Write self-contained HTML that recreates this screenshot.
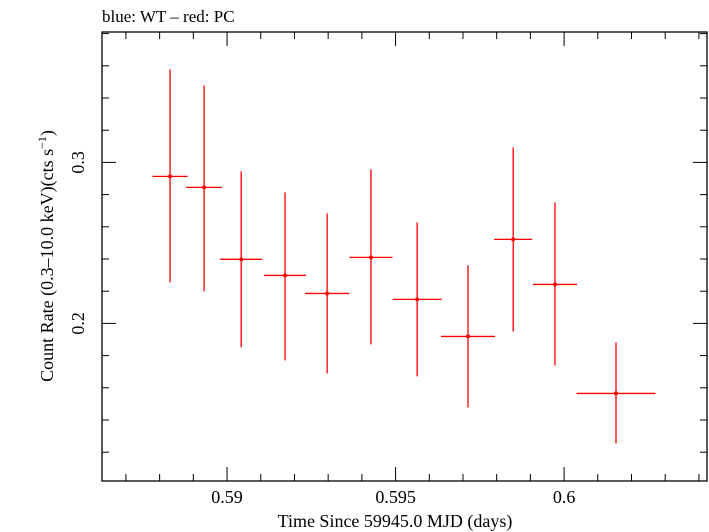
<!DOCTYPE html>
<html><head><meta charset="utf-8"><style>
body{margin:0;background:#fff}
svg{display:block;font-family:"Liberation Serif",serif}
</style></head><body>
<svg id="chart" width="709" height="532">
<text x="102" y="22" font-size="17">blue: WT – red: PC</text>
<rect x="102" y="32" width="605" height="449" fill="none" stroke="#000" stroke-width="1.3"/>
<g id="ticks"></g>
<g id="marks"></g>
<text x="395" y="527" font-size="18" text-anchor="middle">Time Since 59945.0 MJD (days)</text>
<text transform="translate(53,256) rotate(-90)" font-size="18" text-anchor="middle">Count Rate (0.3–10.0 keV)(cts s<tspan baseline-shift="super" font-size="12">−1</tspan>)</text>
</svg>
<script>
const times=[0.58831,0.58932,0.59042,0.59172,0.59297,0.59427,0.59564,0.59715,0.59849,0.59973,0.60154];
const halfWidths=[0.00052,0.000534,0.000623,0.000623,0.000653,0.000638,0.000727,0.0008,0.000564,0.000653,0.001172];
const rates=[0.2913,0.2845,0.2398,0.2298,0.2186,0.241,0.2149,0.1919,0.2522,0.2242,0.1565];
const ratesHi=[0.3578,0.3478,0.2944,0.2814,0.2683,0.2957,0.2627,0.236,0.3093,0.2752,0.1882];
const ratesLo=[0.2255,0.2199,0.1851,0.177,0.1689,0.187,0.1671,0.1478,0.195,0.1739,0.1255];
const xTicks=[0.59,0.595,0.6];
const xTickLabels=["0.59","0.595","0.6"];
const yTicks=[0.2,0.3];
const yTickLabels=["0.2","0.3"];
const X0=102,X1=707,Y0=32,Y1=481;
const xMin=0.58629,xMax=0.60424,yMin=0.1021,yMax=0.3810;
const sx=v=>X0+(v-xMin)/(xMax-xMin)*(X1-X0);
const sy=v=>Y1-(v-yMin)/(yMax-yMin)*(Y1-Y0);
const NS="http://www.w3.org/2000/svg";
function mk(tag,attrs,parent){const e=document.createElementNS(NS,tag);for(const k in attrs)e.setAttribute(k,attrs[k]);parent.appendChild(e);return e;}
const tg=document.getElementById('ticks');
for(let i=Math.ceil(xMin*1000);i<=Math.floor(xMax*1000);i++){
  const v=i/1000,x=sx(v),major=(i%5===0),len=major?14:7;
  const t1=mk('line',{x1:x,x2:x,y1:Y1,y2:Y1-len,stroke:'#000','stroke-width':1},tg);
  
  
  const t2=mk('line',{x1:x,x2:x,y1:Y0,y2:Y0+len,stroke:'#000','stroke-width':1},tg);
  
  
}
xTicks.forEach((v,i)=>{
  const t=mk('text',{x:sx(v),y:503,'font-size':18,'text-anchor':'middle'},tg);
  t.textContent=xTickLabels[i];
  
  
});
for(let i=Math.ceil(yMin*50);i<=Math.floor(yMax*50);i++){
  const v=i/50,y=sy(v),major=(i%5===0),len=major?14:7;
  const t1=mk('line',{x1:X0,x2:X0+len,y1:y,y2:y,stroke:'#000','stroke-width':1},tg);
  
  
  const t2=mk('line',{x1:X1,x2:X1-len,y1:y,y2:y,stroke:'#000','stroke-width':1},tg);
  
  
}
yTicks.forEach((v,i)=>{
  const t=mk('text',{transform:`translate(84,${sy(v)}) rotate(-90)`,'font-size':18,'text-anchor':'middle'},tg);
  t.textContent=yTickLabels[i];
  
  
});
const mg=document.getElementById('marks');
times.forEach((t,i)=>{
  const g=mk('g',{stroke:'#f00','stroke-width':1.3},mg);
  
  
  mk('line',{x1:sx(t-halfWidths[i]),x2:sx(t+halfWidths[i]),y1:sy(rates[i]),y2:sy(rates[i])},g);
  mk('line',{x1:sx(t),x2:sx(t),y1:sy(ratesHi[i]),y2:sy(ratesLo[i])},g);
  mk('circle',{cx:sx(t),cy:sy(rates[i]),r:2,fill:'#f00',stroke:'none'},g);
});
</script>
</body></html>
